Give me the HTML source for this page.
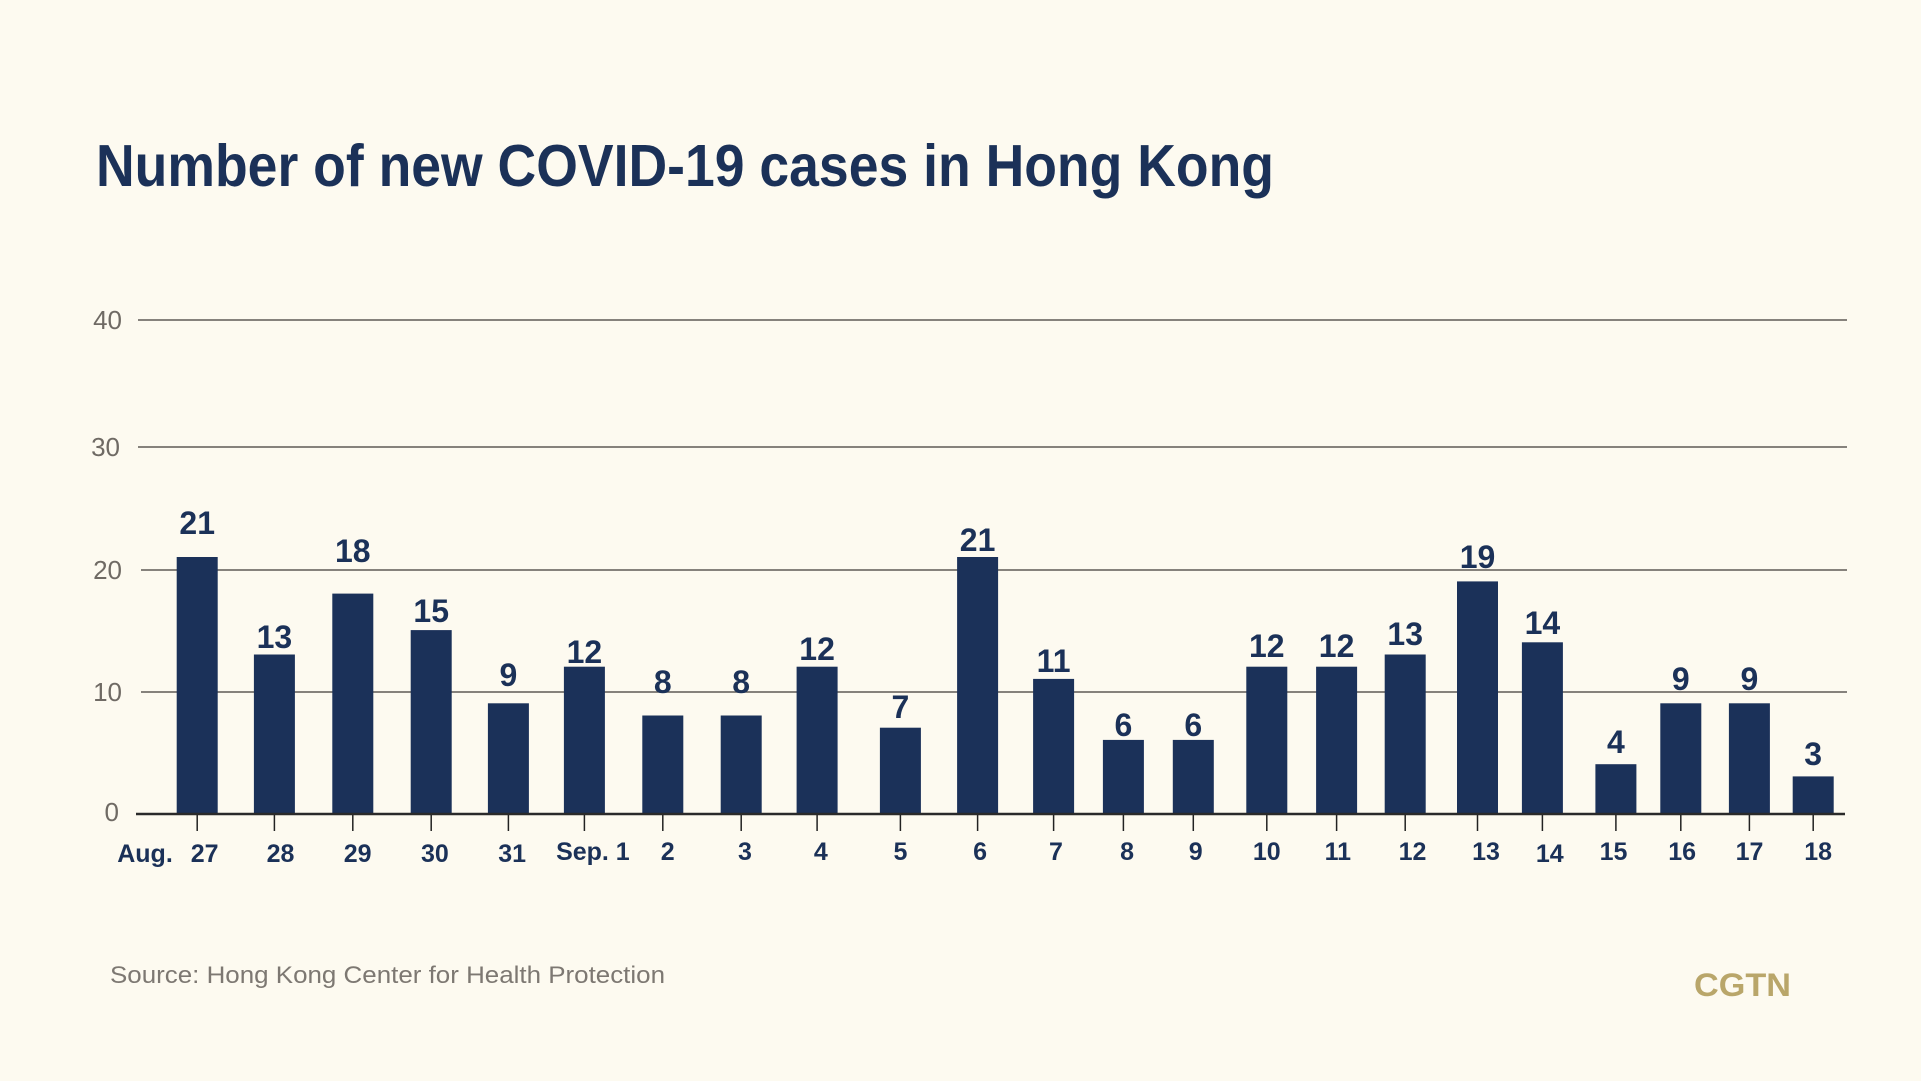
<!DOCTYPE html>
<html><head><meta charset="utf-8"><style>
html,body{margin:0;padding:0;background:#fdfaf0;}
svg{display:block;}
text{font-family:"Liberation Sans",sans-serif;}
</style></head><body>
<svg width="1921" height="1081" viewBox="0 0 1921 1081" xmlns="http://www.w3.org/2000/svg">
<rect width="1921" height="1081" fill="#fdfaf0"/>
<text x="96" y="186" font-size="59" font-weight="bold" fill="#1b3158" textLength="1178" lengthAdjust="spacingAndGlyphs">Number of new COVID-19 cases in Hong Kong</text>
<g stroke="#5e5a55" stroke-width="1.6">
<line x1="138" y1="320" x2="1847" y2="320"/>
<line x1="138" y1="447" x2="1847" y2="447"/>
<line x1="141" y1="570" x2="1847" y2="570"/>
<line x1="141" y1="692" x2="1847" y2="692"/>
</g>
<g font-size="26" fill="#6f6a64" text-anchor="end">
<text x="122" y="329">40</text>
<text x="120" y="456">30</text>
<text x="122" y="579">20</text>
<text x="122" y="701">10</text>
<text x="119" y="821">0</text>
</g>
<g fill="#1b3159">
<rect x="176.7" y="557" width="41" height="256"/>
<rect x="253.9" y="654.5" width="41" height="158.5"/>
<rect x="332.3" y="593.6" width="41" height="219.4"/>
<rect x="410.7" y="630.1" width="41" height="182.9"/>
<rect x="487.9" y="703.3" width="41" height="109.7"/>
<rect x="563.9" y="666.7" width="41" height="146.3"/>
<rect x="642.3" y="715.5" width="41" height="97.5"/>
<rect x="720.7" y="715.5" width="41" height="97.5"/>
<rect x="796.6" y="666.7" width="41" height="146.3"/>
<rect x="879.9" y="727.7" width="41" height="85.3"/>
<rect x="957.1" y="557" width="41" height="256"/>
<rect x="1033.1" y="678.9" width="41" height="134.1"/>
<rect x="1102.9" y="739.9" width="41" height="73.1"/>
<rect x="1172.8" y="739.9" width="41" height="73.1"/>
<rect x="1246.3" y="666.7" width="41" height="146.3"/>
<rect x="1316.1" y="666.7" width="41" height="146.3"/>
<rect x="1384.7" y="654.5" width="41" height="158.5"/>
<rect x="1457.0" y="581.4" width="41" height="231.6"/>
<rect x="1521.9" y="642.3" width="41" height="170.7"/>
<rect x="1595.4" y="764.2" width="41" height="48.8"/>
<rect x="1660.3" y="703.3" width="41" height="109.7"/>
<rect x="1728.9" y="703.3" width="41" height="109.7"/>
<rect x="1792.7" y="776.4" width="41" height="36.6"/>
</g>
<line x1="136" y1="814" x2="1845" y2="814" stroke="#2a2a2a" stroke-width="2.5"/>
<g stroke="#222" stroke-width="1.5">
<line x1="197.2" y1="815" x2="197.2" y2="831"/><line x1="274.4" y1="815" x2="274.4" y2="831"/>
<line x1="352.8" y1="815" x2="352.8" y2="831"/><line x1="431.2" y1="815" x2="431.2" y2="831"/>
<line x1="508.4" y1="815" x2="508.4" y2="831"/><line x1="584.4" y1="815" x2="584.4" y2="831"/>
<line x1="662.8" y1="815" x2="662.8" y2="831"/><line x1="741.2" y1="815" x2="741.2" y2="831"/>
<line x1="817.1" y1="815" x2="817.1" y2="831"/><line x1="900.4" y1="815" x2="900.4" y2="831"/>
<line x1="977.6" y1="815" x2="977.6" y2="831"/><line x1="1053.6" y1="815" x2="1053.6" y2="831"/>
<line x1="1123.4" y1="815" x2="1123.4" y2="831"/><line x1="1193.3" y1="815" x2="1193.3" y2="831"/>
<line x1="1266.8" y1="815" x2="1266.8" y2="831"/><line x1="1336.6" y1="815" x2="1336.6" y2="831"/>
<line x1="1405.2" y1="815" x2="1405.2" y2="831"/><line x1="1477.5" y1="815" x2="1477.5" y2="831"/>
<line x1="1542.4" y1="815" x2="1542.4" y2="831"/><line x1="1615.9" y1="815" x2="1615.9" y2="831"/>
<line x1="1680.8" y1="815" x2="1680.8" y2="831"/><line x1="1749.4" y1="815" x2="1749.4" y2="831"/>
<line x1="1813.2" y1="815" x2="1813.2" y2="831"/>
</g>
<g font-size="32" font-weight="bold" fill="#1b3158" text-anchor="middle">
<text x="197.2" y="534">21</text>
<text x="274.4" y="648">13</text>
<text x="352.8" y="562">18</text>
<text x="431.2" y="622">15</text>
<text x="508.4" y="686">9</text>
<text x="584.4" y="663">12</text>
<text x="662.8" y="693">8</text>
<text x="741.2" y="693">8</text>
<text x="817.1" y="660">12</text>
<text x="900.4" y="718">7</text>
<text x="977.6" y="551">21</text>
<text x="1053.6" y="672">11</text>
<text x="1123.4" y="736">6</text>
<text x="1193.3" y="736">6</text>
<text x="1266.8" y="657">12</text>
<text x="1336.6" y="657">12</text>
<text x="1405.2" y="645">13</text>
<text x="1477.5" y="568">19</text>
<text x="1542.4" y="634">14</text>
<text x="1615.9" y="753">4</text>
<text x="1680.8" y="690">9</text>
<text x="1749.4" y="690">9</text>
<text x="1813.2" y="765">3</text>
</g>
<g font-size="25" font-weight="bold" fill="#1b3158" text-anchor="middle">
<text x="145" y="862">Aug.</text>
<text x="204.6" y="862">27</text>
<text x="280.5" y="862">28</text>
<text x="357.7" y="862">29</text>
<text x="434.9" y="862">30</text>
<text x="512.1" y="862">31</text>
<text x="592.9" y="860">Sep. 1</text>
<text x="667.7" y="860">2</text>
<text x="744.9" y="860">3</text>
<text x="820.8" y="860">4</text>
<text x="900.5" y="860">5</text>
<text x="980.1" y="860">6</text>
<text x="1056.0" y="860">7</text>
<text x="1127.1" y="860">8</text>
<text x="1195.7" y="860">9</text>
<text x="1266.8" y="860">10</text>
<text x="1337.8" y="860">11</text>
<text x="1412.5" y="860">12</text>
<text x="1486.0" y="860">13</text>
<text x="1549.8" y="862">14</text>
<text x="1613.5" y="860">15</text>
<text x="1682.1" y="860">16</text>
<text x="1749.5" y="860">17</text>
<text x="1818.1" y="860">18</text>
</g>
<text x="110" y="983" font-size="24" fill="#7d7872" textLength="555" lengthAdjust="spacingAndGlyphs">Source: Hong Kong Center for Health Protection</text>
<text x="1694" y="996" font-size="32" font-weight="bold" fill="#b9a66a" textLength="97" lengthAdjust="spacingAndGlyphs">CGTN</text>
</svg>
</body></html>
